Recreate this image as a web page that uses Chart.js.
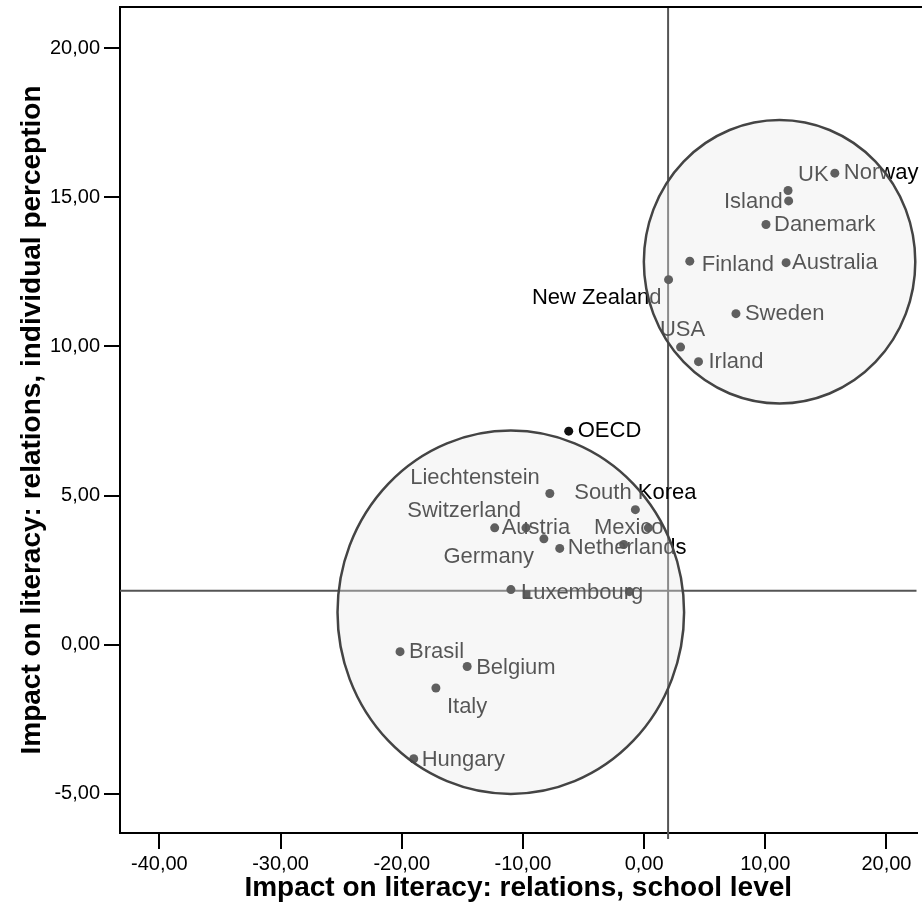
<!DOCTYPE html>
<html>
<head>
<meta charset="utf-8">
<script src="https://cdn.jsdelivr.net/npm/chart.js@4.4.0/dist/chart.umd.min.js"></script>
<style>
  body { margin: 0; background: #fff; }
  canvas { display: block; }
</style>
</head>
<body>
<canvas id="graficoAlfabetizacion" width="922" height="914"></canvas>
<script>
// Datos (países, nivel escolar, percepción individual)
const paises = ['Norway', 'UK', 'Island', 'Danemark', 'Finland', 'Australia', 'New Zealand', 'Sweden', 'USA', 'Irland',
  'OECD', 'Liechtenstein', 'South Korea', 'Austria', 'Switzerland', '', 'Germany', 'Netherlands', 'Mexico',
  'Luxembourg', '', 'Brasil', 'Belgium', 'Italy', 'Hungary'];
const nivelEscolar = [15.74, 11.88, 11.93, 10.06, 3.77, 11.72, 2.02, 7.58, 3.01, 4.49,
  -6.22, -7.78, -0.72, -12.33, -9.75, 0.35, -8.27, -6.96, -1.68,
  -10.99, -1.21, -20.14, -14.60, -17.18, -19.01];
const percepcionIndividual = [15.81, 15.23, 14.88, 14.09, 12.86, 12.81, 12.24, 11.10, 9.98, 9.49,
  7.16, 5.07, 4.53, 3.92, 3.92, 3.92, 3.55, 3.23, 3.36,
  1.85, 1.78, -0.23, -0.73, -1.45, -3.82];

// Marca cuadrada sin etiqueta (junto a Luxembourg)
const cuadradoX = [-9.70];
const cuadradoY = [1.70];

// Ticks de los ejes
const ticksX = [-40, -30, -20, -10, 0, 10, 20];
const ticksY = [-5, 0, 5, 10, 15, 20];

// Líneas de referencia (medias)
const referenciaX = 1.98;
const referenciaY = 1.81;

// Elipses de agrupación: centro x, centro y, radio x, radio y (unidades de datos)
const grupoCentroX = [11.18, -11.0];
const grupoCentroY = [12.84, 1.09];
const grupoRadioX = [11.2, 14.3];
const grupoRadioY = [4.75, 6.09];

// Posición de cada etiqueta respecto a su punto (px): dx, dy, alineación
const posEtiquetas = [
  [9, 0, 'left'], [10, -16, 'left'], [-6, 1, 'right'], [8, 0, 'left'], [12, 4, 'left'],
  [6, 0, 'left'], [-7, 18, 'right'], [9, 0, 'left'], [2, -17, 'center'], [10, 0, 'left'],
  [9, 0, 'left'], [-10, -16, 'right'], [0, -17, 'center'], [7, 0, 'left'], [-5, -17, 'right'],
  [0, 0, 'left'], [-10, 18, 'right'], [8, 0, 'left'], [5, -17, 'center'],
  [10, 3, 'left'], [0, 0, 'left'], [9, 0, 'left'], [9, 1, 'left'], [11, 19, 'left'], [8, 1, 'left']
];

const fuente = "'Liberation Sans', Arial, Helvetica, sans-serif";

function formatoComa(valor) {
  return valor.toFixed(2).replace('.', ',');
}

// Plugin para líneas de referencia, etiquetas y elipses
const pluginAnotaciones = {
  id: 'anotaciones',
  beforeDatasetsDraw(chart) {
    const { ctx, chartArea, scales } = chart;
    const px = scales.x.getPixelForValue(referenciaX);
    const py = scales.y.getPixelForValue(referenciaY);
    ctx.save();
    ctx.strokeStyle = '#555';
    ctx.lineWidth = 2;
    ctx.beginPath();
    ctx.moveTo(px, chartArea.top);
    ctx.lineTo(px, chartArea.bottom + 6);
    ctx.moveTo(chartArea.left, py);
    ctx.lineTo(chartArea.right, py);
    ctx.stroke();
    // borde superior
    ctx.strokeStyle = '#000';
    ctx.beginPath();
    ctx.moveTo(chartArea.left - 1, chartArea.top);
    ctx.lineTo(chart.width, chartArea.top);
    ctx.stroke();
    ctx.restore();
  },
  afterDatasetsDraw(chart) {
    const { ctx, scales } = chart;
    ctx.save();
    ctx.font = '22px ' + fuente;
    ctx.fillStyle = '#000';
    ctx.textBaseline = 'middle';
    for (let i = 0; i < paises.length; i++) {
      if (!paises[i]) continue;
      const x = scales.x.getPixelForValue(nivelEscolar[i]);
      const y = scales.y.getPixelForValue(percepcionIndividual[i]);
      const pos = posEtiquetas[i];
      ctx.textAlign = pos[2];
      ctx.fillText(paises[i], x + pos[0], y + pos[1]);
    }
    // elipses semitransparentes encima de todo
    for (let i = 0; i < grupoCentroX.length; i++) {
      const cx = scales.x.getPixelForValue(grupoCentroX[i]);
      const cy = scales.y.getPixelForValue(grupoCentroY[i]);
      const rx = Math.abs(scales.x.getPixelForValue(grupoCentroX[i] + grupoRadioX[i]) - cx);
      const ry = Math.abs(scales.y.getPixelForValue(grupoCentroY[i] + grupoRadioY[i]) - cy);
      ctx.beginPath();
      ctx.ellipse(cx, cy, rx, ry, 0, 0, Math.PI * 2);
      ctx.fillStyle = 'rgba(233, 233, 233, 0.365)';
      ctx.fill();
      ctx.strokeStyle = '#444';
      ctx.lineWidth = 2.5;
      ctx.stroke();
    }
    ctx.restore();
  }
};

const ctx = document.getElementById('graficoAlfabetizacion').getContext('2d');

const chart = new Chart(ctx, {
  type: 'scatter',
  data: {
    datasets: [{
      label: 'Países',
      data: nivelEscolar.map((v, i) => ({ x: v, y: percepcionIndividual[i] })),
      backgroundColor: '#111',
      borderColor: '#111',
      pointRadius: 4.5,
      borderWidth: 0
    },
    {
      label: 'Cuadrado',
      data: cuadradoX.map((v, i) => ({ x: v, y: cuadradoY[i] })),
      backgroundColor: '#111',
      borderColor: '#111',
      pointStyle: 'rect',
      pointRadius: 5.5,
      borderWidth: 0
    }]
  },
  options: {
    responsive: false,
    animation: false,
    layout: { padding: { top: 7, right: 2, bottom: 0, left: 0 } },
    plugins: { legend: { display: false }, tooltip: { enabled: false } },
    scales: {
      x: {
        type: 'linear',
        min: -43.25,
        max: 22.48,
        afterBuildTicks: (scale) => { scale.ticks = ticksX.map(v => ({ value: v })); },
        afterFit: (scale) => { scale.height = 81; scale.paddingLeft = 0; scale.paddingRight = 0; },
        grid: { drawOnChartArea: false, drawTicks: true, tickLength: 16, color: '#000', lineWidth: 2 },
        border: { display: true, color: '#000', width: 2 },
        ticks: { color: '#000', padding: 3, maxRotation: 0, font: { family: fuente, size: 20 }, callback: (v) => formatoComa(v) },
        title: {
          display: true,
          text: 'Impact on literacy: relations, school level',
          color: '#000',
          font: { family: fuente, size: 28, weight: 'bold' },
          padding: { top: 0, bottom: 9 }
        }
      },
      y: {
        type: 'linear',
        min: -6.31,
        max: 21.38,
        afterBuildTicks: (scale) => { scale.ticks = ticksY.map(v => ({ value: v })); },
        afterFit: (scale) => { scale.width = 120; scale.paddingTop = 0; scale.paddingBottom = 0; },
        grid: { drawOnChartArea: false, drawTicks: true, tickLength: 16, color: '#000', lineWidth: 2 },
        border: { display: true, color: '#000', width: 2 },
        ticks: { color: '#000', padding: 4, font: { family: fuente, size: 20 }, callback: (v) => formatoComa(v) },
        title: {
          display: true,
          text: 'Impact on literacy: relations, individual perception',
          color: '#000',
          font: { family: fuente, size: 28, weight: 'bold' },
          padding: { top: 15, bottom: 0 }
        }
      }
    }
  },
  plugins: [pluginAnotaciones]
});
</script>
</body>
</html>
